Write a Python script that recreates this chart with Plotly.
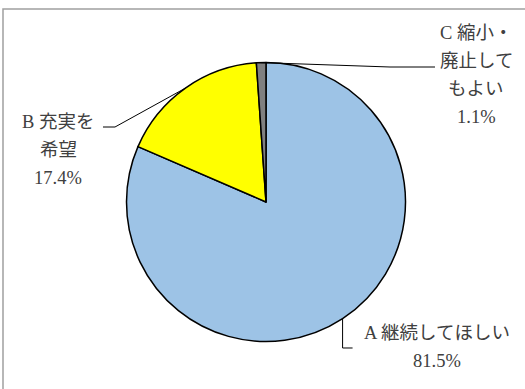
import math
import plotly.graph_objects as go

labels = ["A 継続してほしい", "B 充実を希望", "C 縮小・廃止してもよい"]
values = [81.5, 17.4, 1.1]
colors = ["#9DC3E6", "#FFFF00", "#808080"]
label_lines = [["A 継続してほしい", "81.5%"],
               ["B 充実を", "希望", "17.4%"],
               ["C 縮小・", "廃止して", "もよい", "1.1%"]]

W, H = 525, 389
cx, cy, R = 266, 202, 139.5

fig = go.Figure(go.Pie(
    labels=labels, values=values, sort=False, direction="clockwise", rotation=0,
    marker=dict(colors=colors, line=dict(color="#000000", width=1.5)),
    textinfo="none", hoverinfo="label+percent", showlegend=False,
    domain=dict(x=[(cx - R) / W, (cx + R) / W], y=[1 - (cy + R) / H, 1 - (cy - R) / H]),
))

FONT = "Liberation Serif, Noto Sans CJK JP, serif"
TXT = "#404040"

def px(x, y):
    return x / W, 1 - y / H

# label text positions (center x, first line y, line step)
label_pos = [(437, 333, 28), (58, 122, 28), (476, 33, 28)]
for lines, (lx, ly, step) in zip(label_lines, label_pos):
    for i, t in enumerate(lines):
        x, y = px(lx, ly + i * step)
        fig.add_annotation(x=x, y=y, xref="paper", yref="paper", text=t, showarrow=False,
                           font=dict(family=FONT, size=18.5, color=TXT), xanchor="center", yanchor="middle")

# leader lines, anchored on the pie edge at slice mid-angles
total = sum(values)
cum = 0
mids = []
for v in values:
    mids.append((cum + v / 2) / total * 2 * math.pi)
    cum += v

def edge(a, r=R):
    return cx + r * math.sin(a), cy - r * math.cos(a)

ax, ay = edge(mids[0])
leaders = [
    [(ax, ay), (ax, 348), (ax + 10, 348)],
    [edge(mids[1]), (115, 127), (103, 127)],
    [edge(mids[2]), (390, 67), (435, 67)],
]

for pts in leaders:
    path = "M " + " L ".join(f"{x/W:.5f},{1-y/H:.5f}" for x, y in pts)
    fig.add_shape(type="path", path=path, xref="paper", yref="paper",
                  line=dict(color="#000000", width=1))

# outer chart frame
fig.add_shape(type="rect", xref="paper", yref="paper", x0=3 / W, y0=-0.05, x1=1.05, y1=1 - 9 / H,
              line=dict(color="#A0A0A0", width=1.5))

fig.update_layout(width=W, height=H, margin=dict(l=0, r=0, t=0, b=0),
                  paper_bgcolor="white", plot_bgcolor="white")
fig.write_html("out.html", config={"displayModeBar": False},
               post_script="document.body.style.margin='0';document.body.style.overflow='hidden';")
